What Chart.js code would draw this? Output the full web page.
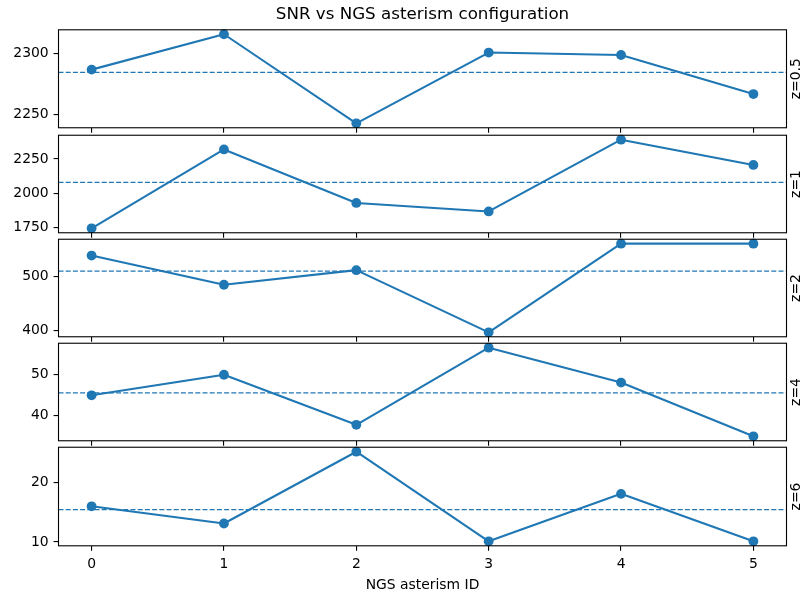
<!DOCTYPE html>
<html>
<head>
<meta charset="utf-8">
<script src="https://cdn.jsdelivr.net/npm/chart.js@4.4.0/dist/chart.umd.min.js"></script>
<style>
  html, body { margin: 0; padding: 0; background: #fff; }
  #wrap { position: relative; width: 805px; height: 601px; overflow: hidden; background: #fff; }
  #wrap canvas { position: absolute; left: 0; }
</style>
</head>
<body>
<div id="wrap"></div>
<script>
// values
const asterismIds = [0, 1, 2, 3, 4, 5];
const zLabels = ['z=0.5', 'z=1', 'z=2', 'z=4', 'z=6'];
const snr_z05 = [2287, 2316, 2243, 2301, 2299, 2267];
const snr_z1 = [1745, 2320, 1930, 1868, 2391, 2207];
const snr_z2 = [538, 484, 511, 396, 560, 560];
const snr_z4 = [44.9, 49.9, 37.7, 56.5, 48.0, 34.9];
const snr_z6 = [16.0, 13.1, 25.2, 10.1, 18.1, 10.1];
const meanLines = [2284.7, 2080, 509.3, 45.5, 15.45];
const yTicks = [[2250, 2300], [1750, 2000, 2250], [400, 500], [40, 50], [10, 20]];
const xTicks = [0, 1, 2, 3, 4, 5];

const series = [snr_z05, snr_z1, snr_z2, snr_z4, snr_z6];

const W = 805, H = 601;
const boxLeft = 58.5, boxRight = 786.5;
const boxTop0 = 29.8, boxStep = 104.2, boxH = 99.2;
const blue = '#1f77b4';

Chart.defaults.font.family = '"DejaVu Sans", sans-serif';

// full box around each panel + the z label on the right
const panelFrame = {
    id: 'panelFrame',
    afterDatasetsDraw(chart, args, opts) {
        const ctx = chart.ctx;
        const a = chart.chartArea;
        ctx.save();
        ctx.strokeStyle = '#000';
        ctx.lineWidth = 1.1;
        ctx.strokeRect(a.left, a.top, a.right - a.left, a.bottom - a.top);
        ctx.fillStyle = '#000';
        ctx.font = '13.9px "DejaVu Sans"';
        ctx.translate(796, (a.top + a.bottom) / 2);
        ctx.rotate(-Math.PI / 2);
        ctx.textAlign = 'center';
        ctx.textBaseline = 'middle';
        ctx.fillText(opts.text, 0, 0);
        ctx.restore();
    }
};

function draw_panel(i) {
    const top = boxTop0 + i * boxStep;
    const bottom = top + boxH;
    const canvasTop = i === 0 ? 0 : Math.floor(top) - 12;
    const canvasBottom = i === 4 ? H : Math.ceil(bottom) + 12;
    const xAxisH = canvasBottom - bottom;
    const last = i === 4;

    const canvas = document.createElement('canvas');
    canvas.width = W;
    canvas.height = canvasBottom - canvasTop;
    canvas.style.top = canvasTop + 'px';
    canvas.style.width = W + 'px';
    canvas.style.height = (canvasBottom - canvasTop) + 'px';
    document.querySelector('#wrap').appendChild(canvas);

    const vals = series[i];
    const lo = Math.min(...vals), hi = Math.max(...vals);
    const m = (hi - lo) * 0.05;

    const titleFont = 16.7;
    const titlePadTop = 4.5;

    new Chart(canvas.getContext('2d'), {
        type: 'line',
        data: {
            datasets: [
                {
                    data: [{x: -0.25, y: meanLines[i]}, {x: 5.25, y: meanLines[i]}],
                    borderColor: blue,
                    borderWidth: 1.3,
                    borderDash: [5, 2.2],
                    pointRadius: 0,
                    pointHoverRadius: 0
                },
                {
                    data: vals.map((v, k) => ({x: asterismIds[k], y: v})),
                    borderColor: blue,
                    backgroundColor: blue,
                    borderWidth: 2.1,
                    borderJoinStyle: 'round',
                    pointRadius: 4.9,
                    pointHoverRadius: 4.9,
                    pointBorderWidth: 0,
                    pointBackgroundColor: blue,
                    tension: 0,
                    clip: false
                }
            ]
        },
        options: {
            responsive: false,
            animation: false,
            events: [],
            layout: {
                padding: {
                    left: 0,
                    right: W - boxRight,
                    top: i === 0 ? 0 : top - canvasTop,
                    bottom: 0
                }
            },
            plugins: {
                legend: { display: false },
                tooltip: { enabled: false },
                title: {
                    display: i === 0,
                    text: 'SNR vs NGS asterism configuration',
                    color: '#000',
                    fullSize: false,
                    font: { size: titleFont, weight: 'normal', lineHeight: 1.2 },
                    padding: { top: titlePadTop, bottom: top - titlePadTop - titleFont * 1.2 }
                },
                panelFrame: { text: zLabels[i] }
            },
            scales: {
                x: {
                    type: 'linear',
                    min: -0.25,
                    max: 5.25,
                    afterBuildTicks: s => { s.ticks = xTicks.map(v => ({value: v})); },
                    afterFit: s => { s.height = xAxisH; },
                    ticks: {
                        display: last,
                        color: '#000',
                        font: { size: 13.9 },
                        padding: 4.9,
                        maxRotation: 0,
                        autoSkip: false,
                        callback: v => String(v)
                    },
                    grid: {
                        drawOnChartArea: false,
                        drawTicks: true,
                        tickLength: 4.9,
                        color: '#000',
                        lineWidth: 1.1
                    },
                    border: { display: false },
                    title: {
                        display: last,
                        text: 'NGS asterism ID',
                        color: '#000',
                        font: { size: 13.9 },
                        padding: { top: 0, bottom: 7.2 }
                    }
                },
                y: {
                    type: 'linear',
                    min: lo - m,
                    max: hi + m,
                    afterBuildTicks: s => { s.ticks = yTicks[i].map(v => ({value: v})); },
                    afterFit: s => { s.width = boxLeft; },
                    ticks: {
                        color: '#000',
                        font: { size: 13.9 },
                        padding: 4.9,
                        callback: v => String(v)
                    },
                    grid: {
                        drawOnChartArea: false,
                        drawTicks: true,
                        tickLength: 4.9,
                        color: '#000',
                        lineWidth: 1.1
                    },
                    border: { display: false }
                }
            }
        },
        plugins: [panelFrame]
    });
}

for (let i = 0; i < 5; i++) {
    draw_panel(i);
}
</script>
</body>
</html>
